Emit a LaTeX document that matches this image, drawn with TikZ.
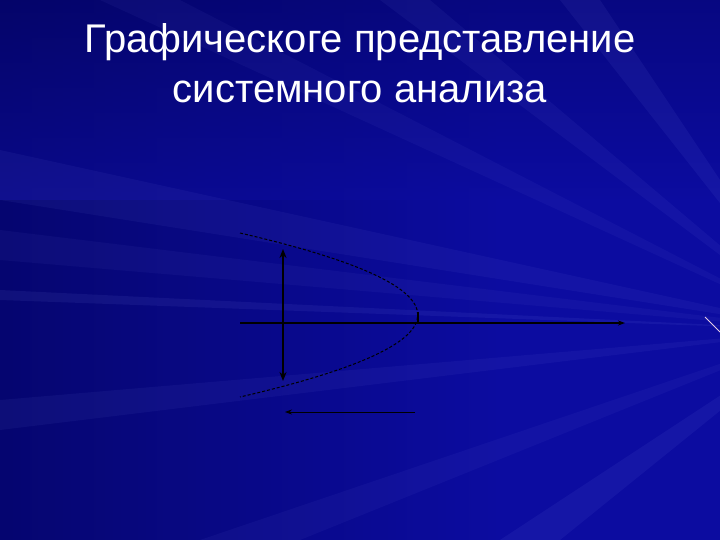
\documentclass[tikz,border=0pt]{standalone}
\usepackage{fontspec}
\setmainfont{Liberation Sans}
\usetikzlibrary{arrows.meta}
\definecolor{bgblue}{RGB}{12,12,160}
\definecolor{bgdark}{RGB}{4,4,100}
\definecolor{raycol}{RGB}{150,160,255}
\begin{document}
\begin{tikzpicture}[x=1pt,y=-1pt,
  ray/.style={fill=raycol,opacity=#1},
  line/.style={black,line width=1.3pt},
  tip/.style={-{Stealth[length=7pt,width=5pt]}}]
\useasboundingbox (0,0) rectangle (720,540);
% background
\fill[bgblue] (0,0) rectangle (720,540);
\shade[left color=bgdark,right color=bgblue,opacity=0.8] (0,0) rectangle (500,540);
\shade[top color=bgdark,bottom color=bgblue,opacity=0.5] (0,0) rectangle (720,200);
% rays from the right
\coordinate (c) at (820,330);
\begin{scope}
\clip (0,0) rectangle (720,540);
\fill[ray=0.06] (c) -- (0,150) -- (0,200) -- cycle;
\fill[ray=0.05] (c) -- (0,230) -- (0,260) -- cycle;
\fill[ray=0.05] (c) -- (100,0) -- (180,0) -- cycle;
\fill[ray=0.06] (c) -- (380,0) -- (430,0) -- cycle;
\fill[ray=0.07] (c) -- (560,0) -- (600,0) -- cycle;
\fill[ray=0.06] (c) -- (0,400) -- (0,430) -- cycle;
\fill[ray=0.05] (c) -- (200,540) -- (300,540) -- cycle;
\fill[ray=0.07] (c) -- (500,540) -- (560,540) -- cycle;
\fill[ray=0.08] (c) -- (0,290) -- (0,300) -- cycle;
\fill[ray=0.09] (c) -- (720,0) -- (740,0) -- cycle;
\end{scope}
% title
\node[text=white,font=\fontsize{40}{50}\selectfont,align=center,anchor=north] (title) at (360,20)
  {Графическоге представление\\системного анализа};
% diagram
\coordinate (hL) at (240,323);
\coordinate (hR) at (625,323);
\coordinate (vT) at (283,249);
\coordinate (vB) at (283,381);
\coordinate (pT) at (240,233);
\coordinate (pB) at (240,397);
\coordinate (pV) at (418,318);
\coordinate (bR) at (415,412);
\coordinate (bL) at (285,412);
\draw[line,tip] (hL) -- (hR);
\draw[black,line width=2pt,{Stealth[length=9pt,width=7pt]}-{Stealth[length=9pt,width=7pt]}] (vT) -- (vB);
\draw[black,line width=1pt,densely dashed] (pT) .. controls (477,288) and (477,342) .. (pB);
\draw[black,line width=1.2pt] (pV) ++(0,-6) -- ++(0,12);
\draw[black,line width=0.8pt,tip] (bR) -- (bL);
% small white stroke bottom right
\coordinate (wA) at (705,317);
\coordinate (wB) at (720,332);
\draw[white!80!violet,line width=1pt] (wA) -- (wB);
\end{tikzpicture}
\end{document}
